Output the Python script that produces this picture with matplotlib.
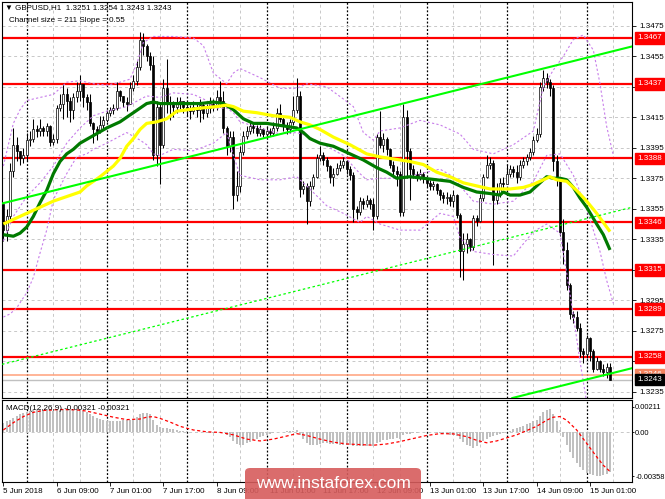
import matplotlib
matplotlib.use("Agg")
import matplotlib.pyplot as plt
from matplotlib.patches import FancyBboxPatch
from matplotlib.transforms import blended_transform_factory

plt.rcParams['font.family'] = ['Liberation Sans', 'DejaVu Sans']

# prices are kept in pips above BASE, hourly bars, bar 0 = 6 Jun 00:00
BASE = 1.3200
first_bar = -7          # 5 Jun 17:00
first_open = 158

close = [141, 150, 180, 197, 193, 188, 190,
         200, 201, 207, 206, 208, 206, 209, 199, 201, 221, 224, 230, 226, 220, 228, 232, 237, 228, 225, 211, 207, 206, 210, 213,
         218, 220, 221, 232, 229, 225, 224, 234, 239, 248, 266, 262, 255, 249, 190, 222, 197, 234, 225, 224, 222, 224, 226, 222,
         221, 219, 222, 220, 223, 218, 221, 224, 222, 228, 226, 208, 196, 202, 164, 170, 192, 203, 206, 209, 208, 205, 207, 204,
         206, 205, 208, 218, 214, 209, 207, 212, 220, 229, 168, 170, 160, 170, 176, 188, 190, 187, 183, 176, 178, 182, 184, 186,
         181, 177, 155, 153, 160, 158, 161, 158, 150, 202, 197, 201, 194, 184, 180, 178, 153, 215, 193, 181, 178, 176, 178, 175,
         172, 170, 171, 167, 164, 162, 163, 160, 164, 151, 127, 132, 135, 130, 149, 147, 162, 176, 184, 185, 161, 165, 172, 171,
         178, 181, 179, 176, 184, 186, 189, 192, 200, 204, 235, 241, 238, 234, 186, 174, 140, 128, 105, 86, 84, 77, 62, 60,
         70, 62, 50, 55, 50, 48, 51, 43]
high = [158, 155, 185, 208, 202, 193, 195,
        205, 206, 214, 210, 214, 209, 211, 210, 204, 223, 230, 237, 234, 228, 231, 238, 243, 237, 230, 230, 212, 209, 216, 216,
        220, 222, 224, 238, 233, 229, 228, 238, 243, 252, 271, 270, 263, 258, 255, 226, 225, 240, 253, 229, 226, 228, 228, 225,
        225, 223, 226, 224, 227, 225, 224, 228, 227, 233, 239, 232, 209, 206, 206, 180, 196, 206, 209, 212, 211, 210, 210, 208,
        209, 208, 212, 221, 224, 215, 212, 214, 229, 241, 232, 173, 172, 173, 178, 191, 196, 192, 189, 184, 182, 185, 187, 189,
        186, 183, 179, 157, 163, 162, 164, 162, 162, 204, 219, 205, 202, 195, 186, 183, 180, 224, 220, 195, 184, 180, 181, 179,
        175, 174, 173, 172, 168, 166, 166, 165, 167, 165, 152, 139, 139, 136, 151, 151, 165, 178, 190, 189, 187, 172, 175, 176,
        184, 184, 183, 184, 187, 189, 191, 195, 203, 208, 238, 246, 244, 240, 236, 190, 176, 148, 133, 106, 88, 88, 80, 64,
        72, 71, 63, 58, 56, 53, 54, 54]
low = [134, 134, 148, 176, 186, 184, 185,
       186, 196, 199, 202, 203, 203, 203, 196, 197, 198, 219, 214, 215, 212, 214, 225, 226, 222, 220, 209, 198, 200, 205, 208,
       212, 216, 217, 220, 226, 222, 219, 224, 232, 236, 246, 256, 252, 246, 187, 183, 171, 195, 218, 213, 215, 218, 220, 218,
       216, 214, 217, 215, 212, 214, 215, 218, 219, 220, 222, 205, 190, 192, 155, 160, 166, 190, 201, 204, 205, 203, 203, 202,
       202, 203, 203, 206, 212, 206, 204, 205, 210, 218, 163, 165, 145, 157, 168, 175, 186, 184, 180, 172, 170, 177, 180, 182,
       178, 174, 146, 148, 151, 155, 156, 155, 141, 148, 195, 192, 190, 182, 176, 170, 150, 150, 175, 161, 175, 173, 174, 172,
       169, 167, 167, 165, 161, 159, 158, 157, 156, 149, 110, 108, 126, 127, 128, 144, 146, 160, 175, 181, 118, 158, 163, 168,
       173, 176, 176, 172, 174, 182, 184, 187, 190, 199, 202, 232, 234, 229, 180, 170, 137, 119, 102, 83, 80, 75, 58, 54,
       57, 55, 48, 49, 48, 45, 44, 43]

# moving averages (bar, pips)
green_i = [-7, -4, -2, 0, 2, 4, 6, 8, 10, 12, 14, 16, 20, 24, 28, 32, 36, 38, 40, 44, 48, 52, 56, 59, 62, 65, 68, 72, 75, 78,
           81, 83, 85, 88, 92, 96, 101, 105, 108, 111, 115, 119, 123, 127, 131, 135, 139, 142, 143, 145, 148, 151, 154, 156,
           158, 160, 162, 164, 166, 168, 171, 173, 175]
green_v = [138, 137, 139, 143, 150, 159, 167, 178, 186, 191, 194, 198, 203, 208, 212, 218, 224, 225, 224, 224, 224, 224, 225,
           224, 220, 214, 211, 211, 210, 209, 208, 205, 201, 198, 196, 192, 187, 182, 179, 175, 176, 175, 174, 173, 169, 166,
           165, 164, 166, 164, 164, 166, 172, 176, 175, 175, 174, 169, 162, 156, 145, 138, 128]
yellow_i = [-7, -4, 0, 4, 8, 12, 16, 18, 22, 26, 28, 30, 32, 34, 36, 39, 42, 45, 52, 57, 60, 62, 65, 69, 74, 79, 82, 85, 88,
            92, 97, 102, 106, 112, 115, 119, 123, 127, 131, 135, 139, 145, 149, 152, 155, 157, 159, 162, 165, 168, 171, 173, 175]
yellow_v = [145, 148, 152, 156, 160, 163, 166, 170, 176, 183, 188, 196, 201, 207, 211, 212, 214, 219, 221, 222, 223, 222, 219,
            218, 216, 215, 212, 210, 207, 202, 197, 191, 189, 187, 186, 184, 179, 176, 172, 170, 168, 168, 169, 171, 174, 176,
            174, 173, 167, 160, 152, 146, 140]

# bollinger bands (dashed violet)
bb_up_i = [-7, -4, -2, 0, 4, 8, 12, 16, 20, 24, 28, 31, 33, 35, 38, 44, 50, 53, 56, 60, 62, 64, 70, 76, 81, 84, 90, 95, 98,
           101, 104, 106, 112, 118, 124, 130, 134, 140, 146, 152, 155, 158, 161, 164, 167, 170, 172, 174, 176]
bb_up_v = [183, 211, 220, 226, 228, 230, 238, 239, 237, 236, 238, 240, 250, 264, 268, 268, 267, 262, 244, 237, 244, 247, 241,
           234, 234, 237, 235, 227, 222, 205, 200, 206, 208, 213, 210, 204, 194, 191, 197, 206, 235, 246, 255, 266, 269, 259,
           237, 209, 190]
bb_mid_i = [-7, -4, 0, 4, 8, 12, 16, 20, 24, 30, 36, 40, 44, 50, 54, 56, 60, 62, 64, 70, 76, 81, 84, 90, 95, 100, 102, 106,
            112, 118, 124, 128, 130, 134, 140, 146, 152, 156, 160, 164, 168, 170, 172, 174, 176]
bb_mid_v = [134, 150, 163, 172, 183, 198, 208, 216, 219, 222, 229, 228, 231, 230, 226, 221, 221, 218, 212, 208, 204, 205, 203,
            196, 190, 178, 174, 175, 175, 178, 181, 176, 170, 160, 158, 160, 173, 190, 191, 177, 155, 141, 127, 108, 93]
bb_lo_i = [-7, -5, -3, 0, 2, 4, 6, 8, 12, 15, 18, 20, 24, 30, 34, 36, 38, 40, 44, 50, 56, 60, 62, 64, 70, 76, 81, 84, 90, 95,
           100, 102, 106, 112, 118, 124, 128, 130, 134, 140, 146, 152, 156, 160, 162, 164, 166, 168]
bb_lo_v = [84, 86, 90, 100, 110, 126, 141, 161, 178, 189, 191, 194, 198, 205, 200, 197, 191, 190, 194, 193, 198, 205, 190, 177,
           174, 174, 176, 170, 157, 152, 146, 150, 145, 141, 141, 152, 150, 136, 127, 125, 124, 140, 145, 139, 113, 85, 55, 28]

# equidistant channel: two anchors on the upper line, width in pips
chan_i = [-7, 176]
chan_v = [158.7, 258.4]
chan_width = 211

levels = [1.3467, 1.3437, 1.3388, 1.3346, 1.3315, 1.3289, 1.3258]
alert_level = 1.3246
last_price = 1.3243
price_ticks = [1.3235, 1.3255, 1.3275, 1.3295, 1.3315, 1.3335, 1.3355, 1.3375, 1.3395, 1.3415, 1.3435, 1.3455, 1.3475]

# MACD histogram in 1e-5
macd = [77, 90, 105, 120, 135, 150, 160,
        170, 178, 183, 188, 190, 188, 186, 180, 178, 182, 186, 190, 188, 185, 184, 183, 180, 175, 165, 150, 135, 120, 110, 100,
        95, 92, 90, 92, 95, 98, 100, 105, 112, 125, 150, 160, 158, 150, 100, 60, 45, 40, 35, 30, 25, 18, 12, 10,
        8, 6, 4, 3, 2, 0, -2, -3, -2, 0, 5, 0, -20, -35, -70, -95, -105, -100, -90, -78, -65, -50, -40, -30,
        -20, -12, -5, 0, 0, 5, 8, 12, 15, 20, -20, -55, -85, -100, -105, -100, -95, -90, -90, -92, -95, -98, -100, -100,
        -102, -105, -110, -115, -112, -110, -108, -105, -110, -90, -75, -65, -60, -55, -50, -45, -50, -25, -15, -10, -5, -3, 0, 2,
        3, 2, 0, -5, -8, -12, -15, -18, -22, -30, -55, -80, -100, -115, -125, -110, -90, -70, -50, -35, -30, -25, -15, -5,
        5, 15, 25, 35, 45, 55, 65, 75, 90, 105, 135, 165, 185, 190, 150, 90, 20, -40, -100, -160, -210, -250, -285, -310,
        -330, -342, -350, -355, -358, -352, -340, -321]
sig_i = [-7, -4, -1, 2, 5, 10, 15, 18, 22, 26, 30, 34, 36, 38, 40, 43, 46, 50, 54, 58, 62, 66, 70, 74, 78, 81, 84, 88, 92, 96,
         100, 104, 108, 112, 116, 120, 124, 128, 132, 135, 138, 141, 144, 147, 150, 153, 156, 158, 160, 162, 165, 168, 171,
         173, 175]
sig_v = [20, 80, 130, 165, 180, 188, 185, 175, 150, 125, 105, 110, 125, 130, 115, 85, 50, 20, 5, 0, -20, -55, -70, -55, -30,
         -10, -25, -55, -80, -95, -100, -105, -95, -75, -50, -25, -10, -12, -35, -65, -85, -70, -45, -20, 15, 50, 100, 125,
         130, 100, 20, -90, -200, -270, -321]
macd_ticks = [0.00211, 0.0, -0.00358]

date_bars = [-7, 9, 25, 41, 57, 73, 89, 105, 121, 137, 153, 169]
date_labels = ['5 Jun 2018', '6 Jun 09:00', '7 Jun 01:00', '7 Jun 17:00', '8 Jun 09:00', '11 Jun 01:00',
               '11 Jun 17:00', '12 Jun 09:00', '13 Jun 01:00', '13 Jun 17:00', '14 Jun 09:00', '15 Jun 01:00']


def p(v):
    return BASE + v / 10000.0


bars = list(range(first_bar, first_bar + len(close)))
opens = [first_open] + close[:-1]
FS = 5.8
GRID = '#c8c8c8'

fig = plt.figure(figsize=(6.65, 4.99), dpi=100)
ax = fig.add_axes([2 / 665, 101 / 499, 630 / 665, 396 / 499])
ax2 = fig.add_axes([2 / 665, 17 / 499, 630 / 665, 82 / 499])

for a in (ax, ax2):
    a.set_xlim(-7.41, 181.6)
    for k in range(-8, 184, 8):
        if k % 24 == 0:
            a.axvline(k, color='black', ls=(0, (1.5, 1.5)), lw=0.9, zorder=1)
        else:
            a.axvline(k, color=GRID, ls=(0, (3, 3)), lw=0.7, zorder=1)
    for s in a.spines.values():
        s.set_color('black')
        s.set_linewidth(0.8)

# main panel
ax.set_ylim(1.32309, 1.34906)
for t in price_ticks:
    ax.axhline(t, color=GRID, ls=(0, (3, 3)), lw=0.7, zorder=1)
for lv in levels:
    ax.axhline(lv, color='#ff0000', lw=1.6, zorder=2)
ax.axhline(alert_level, color='#ffa07a', lw=1.1, zorder=2)
ax.axhline(last_price, color='#c0c0c0', lw=1.0, zorder=2)

# candles
for x, o, h, l, c in zip(bars, opens, high, low, close):
    ax.vlines(x, p(l), p(h), color='black', lw=0.75, zorder=3)
    bull = c >= o
    ax.bar(x, max(abs(c - o), 0.4) / 10000.0, bottom=p(min(o, c)), width=0.62,
           color='white' if bull else 'black', edgecolor='black', lw=0.5, zorder=3.2)

# bollinger
for xi, vi in ((bb_up_i, bb_up_v), (bb_mid_i, bb_mid_v), (bb_lo_i, bb_lo_v)):
    ax.plot(xi, [p(v) for v in vi], color='#c77dea', ls=(0, (2, 2)), lw=0.8, zorder=3.5)

# moving averages
ax.plot(green_i, [p(v) for v in green_v], color='#007a00', lw=2.3, zorder=4, solid_capstyle='butt')
ax.plot(yellow_i, [p(v) for v in yellow_v], color='#ffff00', lw=2.3, zorder=4.1, solid_capstyle='butt')

# channel
for off, style, lw in ((0, '-', 1.5), (chan_width / 2, (0, (2, 2)), 0.9), (chan_width, '-', 1.5)):
    ax.axline((chan_i[0], p(chan_v[0] - off)), (chan_i[1], p(chan_v[1] - off)),
              color='#00ff00', ls=style, lw=lw, zorder=4.5)

ax.set_xticks([])
ax.yaxis.tick_right()
ax.set_yticks(price_ticks)
# the 1.3315 tick label sits fully under the red level tag
ax.set_yticklabels(['' if abs(t - 1.3315) < 1e-6 else f'{t:.4f}' for t in price_ticks])
ax.tick_params(axis='y', labelsize=FS, length=3, pad=2, width=0.6)

tr = blended_transform_factory(ax.transAxes, ax.transData)


def tag(y, text, fc):
    ax.text(1.0 + 5 / 630, y, text, transform=tr, ha='left', va='center', fontsize=FS, color='white',
            bbox=dict(boxstyle='square,pad=0.3', fc=fc, ec=fc), clip_on=False, zorder=10)


for lv in levels:
    tag(lv, f'{lv:.4f}', '#ff0000')
tag(alert_level, f'{alert_level:.4f}', '#f4845f')
tag(last_price, f'{last_price:.4f}', 'black')

fig.text(5 / 665, 1 - 8 / 499, '\u25bc GBPUSD,H1  1.3251 1.3254 1.3243 1.3243', fontsize=FS, va='center')
fig.text(9 / 665, 1 - 20 / 499, 'Channel size = 211 Slope = 0.55', fontsize=FS, va='center')

# MACD panel
ax2.set_ylim(-0.00407, 0.00266)
ax2.axhline(0, color=GRID, ls=(0, (3, 3)), lw=0.7, zorder=1)
ax2.bar(bars, [m / 1e5 for m in macd], width=0.6, color='#c0c0c0', zorder=2)
ax2.plot(sig_i, [s / 1e5 for s in sig_v], color='#ff0000', ls=(0, (2.5, 2)), lw=0.9, zorder=3)
ax2.yaxis.tick_right()
ax2.set_yticks(macd_ticks)
ax2.set_yticklabels(['0.00211', '0.00', '-0.00358'])
ax2.tick_params(axis='y', labelsize=5.4, length=1.5, pad=0.8, width=0.6)
ax2.set_xticks(date_bars)
ax2.set_xticklabels(date_labels)
ax2.tick_params(axis='x', labelsize=FS, length=3, pad=1.5, width=0.6)
for lab in ax2.get_xticklabels():
    lab.set_ha('left')
ax2.text(0.006, 0.9, 'MACD(12,26,9) -0.00321 -0.00321', transform=ax2.transAxes, fontsize=FS, va='center')

# watermark
fig.add_artist(FancyBboxPatch((245 / 665, -6 / 499), 176 / 665, 37 / 499,
                              boxstyle='round,pad=0,rounding_size=0.008', transform=fig.transFigure,
                              fc='#d65c5c', ec='none', alpha=0.9, zorder=20))
fig.text(333 / 665, 1 - 484 / 499, 'www.instaforex.com', color='white', fontsize=12.5,
         ha='center', va='center', zorder=21)

fig.savefig('out.png', dpi=100)
